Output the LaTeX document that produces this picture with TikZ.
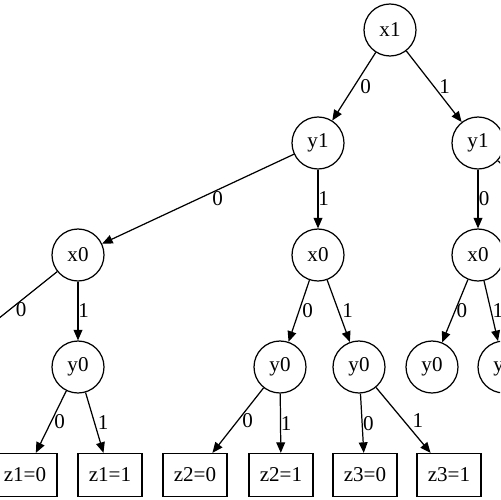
\documentclass[tikz,border=0pt]{standalone}
\usepackage{fontspec}
\setmainfont{Liberation Serif}
\usetikzlibrary{arrows.meta}

\begin{document}
\begin{tikzpicture}[x=0.02cm,y=-0.02cm,->,>={Triangle[length=6pt,width=5pt]},
              line width=0.7pt,font=\fontsize{12}{14}\selectfont,
              main node/.style={circle,draw,minimum size=1.04cm,inner sep=0pt},
              leaf node/.style={rectangle,draw,minimum width=1.28cm,minimum height=0.86cm,inner sep=0pt},
              lbl/.style={midway,right,inner sep=1pt}]

            \useasboundingbox (0,0) rectangle (500,500);
            \clip (0,0) rectangle (500,500);

            \node[main node] (x1) at (390,30) {x1};
            \node[main node] (y1a) at (318,143) {y1};
            \node[main node] (y1b) at (478,143) {y1};
            \node[main node] (x0a) at (78,255) {x0};
            \node[main node] (x0b) at (318,255) {x0};
            \node[main node] (x0c) at (478,255) {x0};
            \node[main node] (y0a) at (78,367) {y0};
            \node[main node] (y0b) at (280,367) {y0};
            \node[main node] (y0c) at (359,367) {y0};
            \node[main node] (y0d) at (432,367) {y0};
            \node[main node] (y0e) at (504,367) {y0};
            \node[leaf node] (z1a) at (25,475) {z1=0};
            \node[leaf node] (z1b) at (110,475) {z1=1};
            \node[leaf node] (z2a) at (195,475) {z2=0};
            \node[leaf node] (z2b) at (281,475) {z2=1};
            \node[leaf node] (z3a) at (365,475) {z3=0};
            \node[leaf node] (z3b) at (449,475) {z3=1};
            \coordinate (xl) at (-62,367);
            \coordinate (xr) at (603,255);

            \path
            (x1) edge node[lbl,xshift=2.3pt] {0} (y1a)
            (x1) edge node[lbl,xshift=1.7pt] {1} (y1b)
            (y1a) edge node[lbl,xshift=6.8pt] {0} (x0a)
            (y1a) edge node[lbl,xshift=-1.2pt] {1} (x0b)
            (y1b) edge node[lbl,xshift=-0.8pt] {0} (x0c)
            (y1b) edge (xr)
            (x0a) edge node[lbl,pos=0.4,xshift=2.3pt] {0} (xl)
            (x0a) edge node[lbl,xshift=-1.2pt] {1} (y0a)
            (x0b) edge node[lbl,xshift=0.5pt] {0} (y0b)
            (x0b) edge node[lbl,xshift=0.8pt] {1} (y0c)
            (x0c) edge node[lbl,xshift=-0.5pt] {0} (y0d)
            (x0c) edge node[lbl,xshift=-0.5pt] {1} (y0e)
            (y0a) edge node[lbl,xshift=0.5pt] {0} (z1a)
            (y0a) edge node[lbl,xshift=0.5pt] {1} (z1b)
            (y0b) edge node[lbl,xshift=1.1pt] {0} (z2a)
            (y0b) edge node[lbl,xshift=-1.2pt] {1} (z2b)
            (y0c) edge node[lbl,xshift=-0.8pt] {0} (z3a)
            (y0c) edge node[lbl,xshift=4pt] {1} (z3b);
          \end{tikzpicture}
\end{document}
